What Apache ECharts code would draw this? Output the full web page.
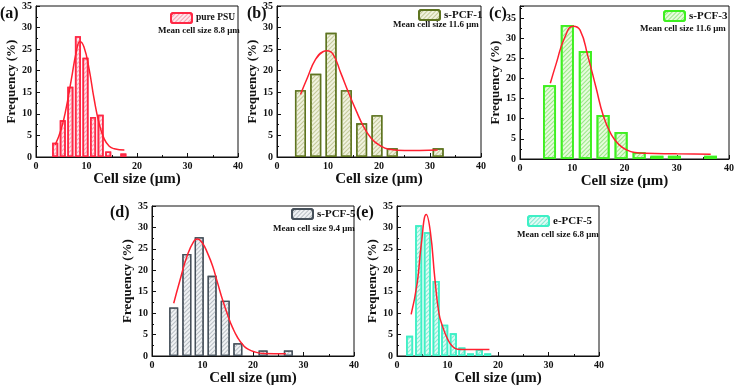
<!DOCTYPE html>
<html>
<head>
<meta charset="utf-8">
<script src="https://cdn.jsdelivr.net/npm/echarts@6/dist/echarts.min.js"></script>
<style>html,body{margin:0;padding:0;background:#fff}#c{width:738px;height:387px}</style>
</head>
<body>
<div id="c"></div>
<script>
// ---- data ----
const panelLabels = ['(a)', '(b)', '(c)', '(d)', '(e)'];
const seriesNames = ['pure PSU', 's-PCF-1', 's-PCF-3', 's-PCF-5', 'e-PCF-5'];
const meanTexts = ['Mean cell size 8.8 \u03bcm', 'Mean cell size 11.6 \u03bcm', 'Mean cell size 11.6 \u03bcm', 'Mean cell size 9.4 \u03bcm', 'Mean cell size 6.8 \u03bcm'];
const xTickValues = [0, 10, 20, 30, 40];
const yTickValues = [0, 5, 10, 15, 20, 25, 30, 35];

const aBins = [3.8, 5.3, 6.8, 8.3, 9.8, 11.3, 12.8, 14.3, 17.3];
const aFreq = [3.3, 8.5, 16.3, 28.0, 23.0, 9.3, 9.8, 1.3, 0.8];
const aCurveX = [3.8, 5, 6, 7, 8, 8.7, 9.5, 10.5, 11.5, 12.5, 13.5, 14.5, 15.5, 17.5];
const aCurveY = [2.8, 6.5, 11.5, 18, 24.5, 26.8, 25.5, 20.5, 13.5, 7.8, 4.2, 2.5, 1.9, 1.6];

const bBins = [4.6, 7.6, 10.6, 13.6, 16.6, 19.6, 22.6, 31.6];
const bFreq = [15.5, 19.3, 28.8, 15.5, 7.8, 9.7, 2.0, 2.0];
const bCurveX = [4.6, 6, 7.5, 9, 9.8, 11, 12.5, 14, 15.5, 17, 18.5, 20, 22, 25, 28, 31.5];
const bCurveY = [14.5, 18.5, 22.5, 24.4, 24.6, 23.8, 19.5, 15, 10.8, 7, 4.3, 2.8, 1.8, 1.5, 1.5, 1.6];

const cBins = [5.65, 9.05, 12.5, 15.9, 19.35, 22.8, 26.2, 29.55, 36.45];
const cFreq = [18.3, 33.3, 26.8, 10.9, 6.7, 1.7, 0.8, 0.8, 0.8];
const cCurveX = [5.8, 7, 8.5, 10.2, 11.5, 13, 14.5, 16, 17.5, 19, 20.5, 22, 24, 30, 36.5];
const cCurveY = [18.8, 24, 30, 33, 32, 25.5, 18, 10.5, 6, 3.5, 2.2, 1.6, 1.4, 1.3, 1.2];

const dBins = [4.3, 6.9, 9.35, 11.9, 14.5, 17.0, 22.0, 27.0];
const dFreq = [11.3, 23.8, 27.7, 18.7, 12.9, 3.0, 1.3, 1.3];
const dCurveX = [4.3, 5.5, 7, 8.3, 9, 10, 11, 12, 13, 14, 15, 16, 17, 18, 19, 20.5, 22, 26.5];
const dCurveY = [12.3, 17.5, 23.5, 26.8, 27.3, 26.3, 24, 21, 17, 13, 9.5, 6.5, 4.2, 2.6, 1.6, 0.9, 0.6, 0.5];

const eBins = [2.5, 4.3, 6.0, 7.75, 9.45, 11.15, 12.85, 14.55, 16.3, 17.95];
const eFreq = [4.7, 30.5, 28.9, 17.5, 7.3, 5.3, 2.0, 0.6, 1.6, 0.6];
const eCurveX = [2.8, 4, 4.8, 5.8, 6.6, 7.5, 8.3, 9, 10, 11, 12, 14, 18.3];
const eCurveY = [9.7, 17, 26, 33, 29, 18, 10, 7, 4, 2.2, 1.6, 1.5, 1.5];

const binsList = [aBins, bBins, cBins, dBins, eBins];
const freqList = [aFreq, bFreq, cFreq, dFreq, eFreq];
const curveXList = [aCurveX, bCurveX, cCurveX, dCurveX, eCurveX];
const curveYList = [aCurveY, bCurveY, cCurveY, dCurveY, eCurveY];
const yMaxList = [35, 35, 38, 35, 35];

// ---- layout & style ----
const grids = [
  {left: 36, top: 6, width: 202, height: 151},
  {left: 277, top: 6, width: 204, height: 151},
  {left: 520, top: 6, width: 209, height: 153},
  {left: 152, top: 206, width: 202, height: 151},
  {left: 397, top: 206, width: 202, height: 151}
];
const barWidths = [6, 11, 13, 9, 7];
const styles = [
  {border: '#ff2845', fill: '#fde8ec', hatch: '#f7a0b2', bw: 1.6},
  {border: '#5e7420', fill: '#f0f2de', hatch: '#c4c99a', bw: 1.4},
  {border: '#3ef020', fill: '#e6fcdc', hatch: '#9be688', bw: 1.8},
  {border: '#46505a', fill: '#f0f2f4', hatch: '#b8bec4', bw: 1.3},
  {border: '#3ef0c6', fill: '#e0fbf4', hatch: '#86ead3', bw: 1.6}
];
const FONT = "'Liberation Serif', 'Times New Roman', serif";

const legendPos = [
  {left: 170, top: 12}, {left: 418, top: 9}, {left: 663, top: 10}, {left: 291, top: 208}, {left: 527, top: 215}
];
const meanPos = [[158, 26], [393, 20], [640, 24], [273, 224], [517, 230]];
const labelPos = [[0, 6], [247, 6], [489, 6], [110, 205], [356, 205]];
const legendFont = [9.5, 11, 11, 11, 11];

const option = {
  animation: false,
  grid: grids.map(g => Object.assign({show: true, borderColor: '#111', borderWidth: 1, containLabel: false}, g)),
  xAxis: grids.map((g, i) => ({
    type: 'value', gridIndex: i, min: 0, max: 40, interval: 10,
    name: 'Cell size (\u03bcm)', nameLocation: 'middle', nameGap: 15,
    nameTextStyle: {fontFamily: FONT, fontWeight: 'bold', fontSize: 15, color: '#111'},
    axisLine: {show: true, onZero: false, lineStyle: {color: '#111', width: 1}},
    axisTick: {show: true, inside: true, length: 4, lineStyle: {color: '#111'}},
    minorTick: {show: true, splitNumber: 2, length: 2, lineStyle: {color: '#111'}},
    splitLine: {show: false},
    axisLabel: {fontFamily: FONT, fontWeight: 'bold', fontSize: 10, color: '#111', margin: 4,
      formatter: v => xTickValues.indexOf(v) >= 0 ? String(v) : ''}
  })),
  yAxis: grids.map((g, i) => ({
    type: 'value', gridIndex: i, min: 0, max: yMaxList[i], interval: 5,
    name: 'Frequency (%)', nameLocation: 'middle', nameGap: 18, nameRotate: 90,
    nameTextStyle: {fontFamily: FONT, fontWeight: 'bold', fontSize: 13, color: '#111'},
    axisLine: {show: true, lineStyle: {color: '#111', width: 1}},
    axisTick: {show: true, inside: true, length: 4, lineStyle: {color: '#111'}},
    minorTick: {show: true, splitNumber: 2, length: 2, lineStyle: {color: '#111'}},
    splitLine: {show: false},
    axisLabel: {fontFamily: FONT, fontWeight: 'bold', fontSize: 10, color: '#111', margin: 4, showMaxLabel: yMaxList[i] === 35,
      formatter: v => yTickValues.indexOf(v) >= 0 ? String(v) : ''}
  })),
  legend: grids.map((g, i) => ({
    data: [seriesNames[i]], left: legendPos[i].left, top: legendPos[i].top,
    itemWidth: 21, itemHeight: 10, itemGap: 4, padding: 0,
    textStyle: {fontFamily: FONT, fontWeight: 'bold', fontSize: legendFont[i], color: '#111', padding: [0, 0, 0, -1]}
  })),
  series: [],
  graphic: []
};

for (let i = 0; i < 5; i++) {
  const st = styles[i];
  option.series.push({
    name: seriesNames[i], type: 'bar', xAxisIndex: i, yAxisIndex: i,
    barWidth: barWidths[i],
    data: binsList[i].map((x, k) => [x, freqList[i][k]]),
    itemStyle: {
      color: st.fill, borderColor: st.border, borderWidth: st.bw,
      decal: {symbol: 'rect', symbolSize: 1, dashArrayX: [1, 0], dashArrayY: [1, 1.5], rotation: -Math.PI / 4, color: st.hatch}
    }
  });
  option.series.push({
    name: seriesNames[i] + ' fit', type: 'line', xAxisIndex: i, yAxisIndex: i,
    smooth: true, showSymbol: false, symbol: 'none',
    lineStyle: {color: '#ff2030', width: 1.5},
    data: curveXList[i].map((x, k) => [x, curveYList[i][k]]),
    z: 5
  });
  option.graphic.push({
    type: 'text', left: meanPos[i][0], top: meanPos[i][1],
    style: {text: meanTexts[i], font: 'bold 9px ' + FONT, fill: '#111'}
  });
  option.graphic.push({
    type: 'text', left: labelPos[i][0], top: labelPos[i][1],
    style: {text: panelLabels[i], font: 'bold 16px ' + FONT, fill: '#111'}
  });
}

const chart = echarts.init(document.getElementById('c'), null, {renderer: 'canvas'});
chart.setOption(option);
</script>
</body>
</html>
